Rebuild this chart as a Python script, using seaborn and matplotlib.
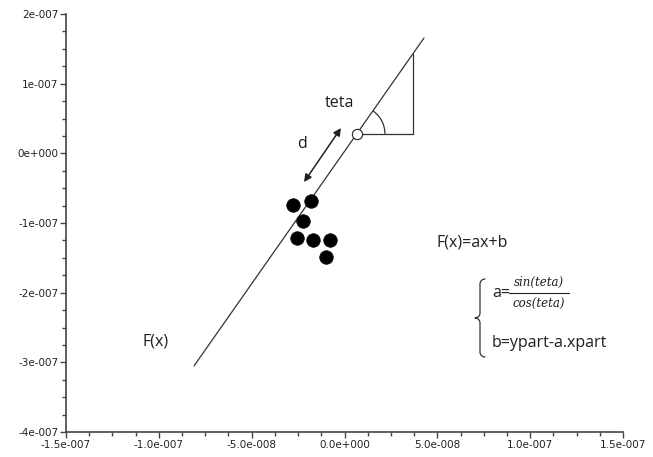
import numpy as np
import pandas as pd
import matplotlib
matplotlib.use("Agg")
import matplotlib.pyplot as plt
import matplotlib.transforms as mtransforms
from matplotlib.patches import Arc
from matplotlib.ticker import FixedLocator, MultipleLocator
import seaborn as sns

# ---- data ----
dots_x = [-2.77e-8, -1.80e-8, -2.23e-8, -2.56e-8, -1.70e-8, -0.78e-8, -1.00e-8]
dots_y = [-7.42e-8, -6.85e-8, -9.72e-8, -1.216e-7, -1.244e-7, -1.244e-7, -1.488e-7]

line_x = [-8.1e-8, 4.28e-8]
line_y = [-3.05e-7, 1.655e-7]

part_x = [0.67e-8]
part_y = [2.8e-8]

tri_x = [0.67e-8, 3.69e-8, 3.69e-8]
tri_y = [2.8e-8, 2.8e-8, 1.43e-7]

arrow_start = (-2.18e-8, -4.12e-8)
arrow_end = (-0.19e-8, 3.63e-8)

xtick_vals = [-1.5e-7, -1.0e-7, -5.0e-8, 0.0, 5.0e-8, 1.0e-7, 1.5e-7]
xtick_labels = ["-1.5e-007", "-1.0e-007", "-5.0e-008", "0.0e+000", "5.0e-008", "1.0e-007", "1.5e-007"]
ytick_vals = [-4e-7, -3e-7, -2e-7, -1e-7, 0.0, 1e-7, 2e-7]
ytick_labels = ["-4e-007", "-3e-007", "-2e-007", "-1e-007", "0e+000", "1e-007", "2e-007"]

sns.set_style("ticks")
plt.rcParams['font.family'] = ['DejaVu Sans']

W, H = 653, 457
fig = plt.figure(figsize=(W / 100, H / 100), dpi=100)
ax = fig.add_axes([66 / W, 1 - 432 / H, (623 - 66) / W, (432 - 14) / H])

ink = "#1e1e1e"

sns.lineplot(x=line_x, y=line_y, sort=False, ax=ax, color="#333333", linewidth=0.9)
ax.plot(tri_x, tri_y, color="#333333", linewidth=0.9)
sns.scatterplot(x=dots_x, y=dots_y, ax=ax, s=95, color="black", edgecolor="black",
                linewidth=0.5, zorder=5)
ax.scatter(part_x, part_y, s=55, facecolors="white", edgecolors="#222222",
           linewidths=0.8, zorder=6)

# angle arc (in pixel units around the point)
trans = mtransforms.IdentityTransform() + mtransforms.ScaledTranslation(part_x[0], part_y[0], ax.transData)
ax.add_patch(Arc((0, 0), 56, 56, theta1=0, theta2=55, transform=trans,
                 color="#333333", linewidth=0.9))

ax.annotate("", xy=arrow_end, xytext=arrow_start,
            arrowprops=dict(arrowstyle="<|-|>", color="#222222", lw=1.1,
                            mutation_scale=11, shrinkA=0, shrinkB=0))

ax.set_xlim(-1.5e-7, 1.5e-7)
ax.set_ylim(-4e-7, 2e-7)
ax.xaxis.set_major_locator(FixedLocator(xtick_vals))
ax.set_xticklabels(xtick_labels)
ax.yaxis.set_major_locator(FixedLocator(ytick_vals))
ax.set_yticklabels(ytick_labels)
ax.xaxis.set_minor_locator(MultipleLocator(1.25e-8))
ax.yaxis.set_minor_locator(MultipleLocator(2.5e-8))
ax.tick_params(axis="both", which="major", labelsize=7.5, length=4, width=1,
               color="#444444", labelcolor="#222222", pad=1.5)
ax.tick_params(axis="both", which="minor", length=3, width=1, color="#444444")
ax.set_xlabel("")
ax.set_ylabel("")

sns.despine(ax=ax)
for s in ["left", "bottom"]:
    ax.spines[s].set_color("#444444")
    ax.spines[s].set_linewidth(1.2)

def fx(px):
    return px / W

def fy(py):
    return 1 - py / H

tfont = ['Open Sans', 'DejaVu Sans']
fs = 11.5
fig.text(fx(325), fy(103), "teta", fontsize=fs, color=ink, family=tfont, va="center", ha="left")
fig.text(fx(297), fy(144), "d", fontsize=fs, color=ink, family=tfont, va="center", ha="left")
fig.text(fx(142), fy(341), "F(x)", fontsize=fs, color=ink, family=tfont, va="center", ha="left")
fig.text(fx(436), fy(243), "F(x)=ax+b", fontsize=fs, color=ink, family=tfont, va="center", ha="left")
fig.text(fx(492), fy(293), "a=", fontsize=fs, color=ink, family=tfont, va="center", ha="left")
fig.text(fx(539), fy(282), "sin(teta)", fontsize=8.5, color=ink, family=['DejaVu Serif'],
         style="italic", va="center", ha="center")
fig.text(fx(539), fy(304), "cos(teta)", fontsize=8.5, color=ink, family=['DejaVu Serif'],
         style="italic", va="center", ha="center")
fig.add_artist(plt.Line2D([fx(509), fx(569)], [fy(293), fy(293)], color=ink, linewidth=0.8))
fig.text(fx(492), fy(343), "b=ypart-a.xpart", fontsize=fs, color=ink, family=tfont, va="center", ha="left")

# brace
r = 5
pts = []
for a in np.linspace(np.pi / 2, np.pi, 12):
    pts.append((485 + r * np.cos(a), 284 - r * np.sin(a)))
pts.append((480, 313))
for a in np.linspace(0, -np.pi / 2, 12):
    pts.append((475 + r * np.cos(a), 313 - r * np.sin(a)))
for a in np.linspace(np.pi / 2, 0, 12):
    pts.append((475 + r * np.cos(a), 323 - r * np.sin(a)))
pts.append((480, 352))
for a in np.linspace(np.pi, 3 * np.pi / 2, 12):
    pts.append((485 + r * np.cos(a), 352 - r * np.sin(a)))
pts = np.array(pts)
fig.add_artist(plt.Line2D(fx(pts[:, 0]), fy(pts[:, 1]), color="#333333", linewidth=0.9))

fig.savefig("out.png", dpi=100)
